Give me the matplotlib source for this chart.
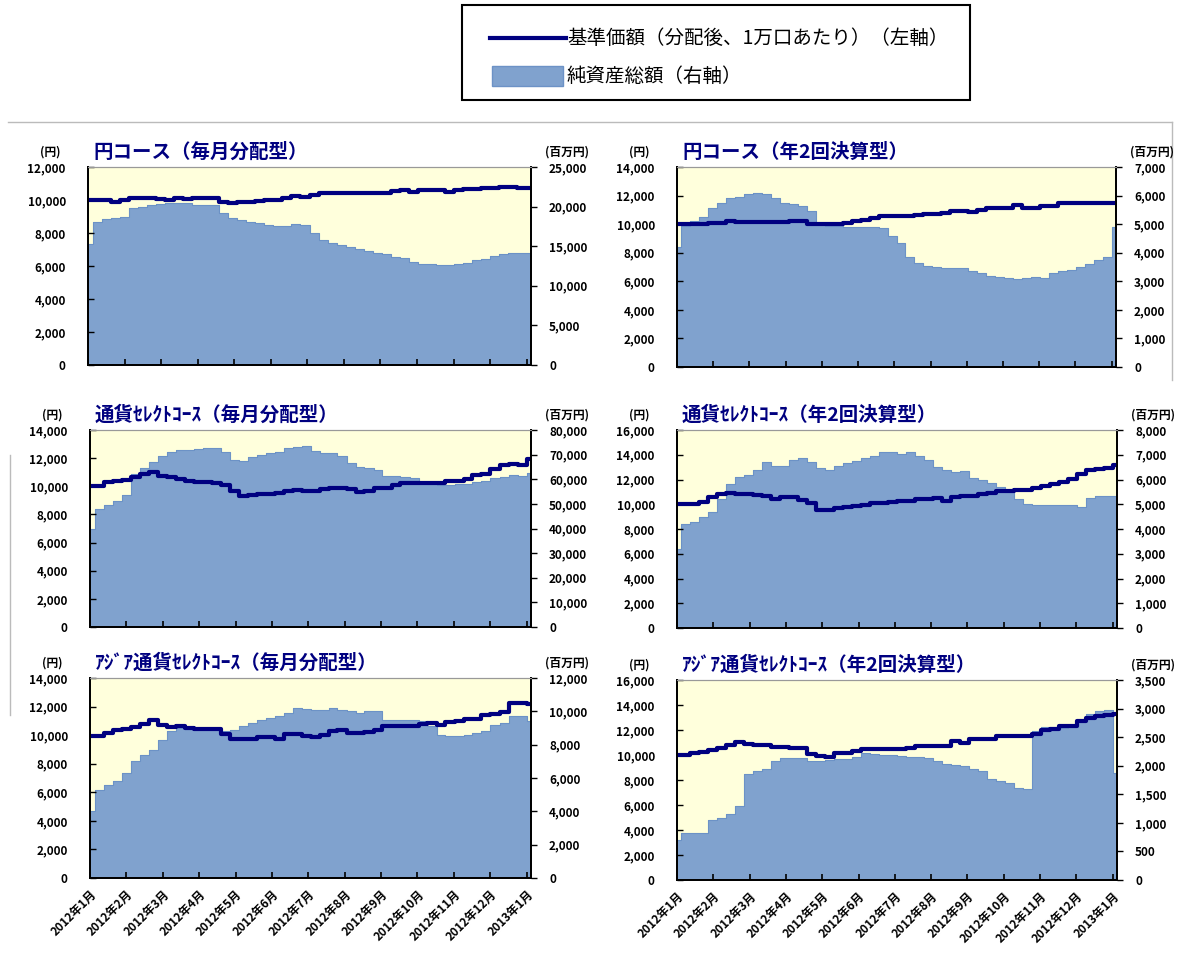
import numpy as np
import matplotlib
matplotlib.use('Agg')
import matplotlib.pyplot as plt
from matplotlib.lines import Line2D
from matplotlib.patches import Rectangle

plt.rcParams['font.family'] = ['Noto Sans CJK JP', 'DejaVu Sans']

# ===================== DATA =====================
MONTH_LABELS = ["2012年1月", "2012年2月", "2012年3月", "2012年4月", "2012年5月",
                "2012年6月", "2012年7月", "2012年8月", "2012年9月", "2012年10月",
                "2012年11月", "2012年12月", "2013年1月"]
X_END = 12.12  # months shown on the x axis

# 円コース（毎月分配型）
yen_m_nav = [10000, 10000, 10000, 9900, 10000, 10100, 10100, 10100, 10050, 10000,
             10100, 10050, 10100, 10100, 10100, 9900, 9800, 9850, 9850, 9950,
             10000, 10000, 10150, 10250, 10200, 10300, 10400, 10400, 10400, 10400,
             10400, 10400, 10400, 10450, 10550, 10600, 10500, 10600, 10600, 10600,
             10500, 10600, 10650, 10650, 10700, 10700, 10800, 10800, 10700, 10700]
yen_m_assets = [15300, 18000, 18400, 18500, 18700, 19800, 20000, 20200, 20300, 20400,
                20400, 20400, 20200, 20200, 20200, 19200, 18600, 18300, 18000, 17900,
                17700, 17600, 17600, 17800, 17700, 16700, 15800, 15400, 15100, 14900,
                14700, 14400, 14200, 14000, 13600, 13500, 13000, 12800, 12700, 12600,
                12600, 12700, 12900, 13200, 13400, 13800, 14000, 14100, 14100, 14100]

# 円コース（年2回決算型）
yen_s_nav = [10000, 10000, 10000, 10000, 10050, 10100, 10200, 10150, 10150, 10150,
             10150, 10150, 10150, 10250, 10200, 10000, 10000, 10000, 10000, 10100,
             10250, 10300, 10450, 10550, 10550, 10550, 10550, 10650, 10700, 10700,
             10750, 10900, 10950, 10850, 11000, 11150, 11150, 11150, 11350, 11150,
             11150, 11300, 11300, 11450, 11450, 11450, 11450, 11450, 11450, 11450]
yen_s_assets = [4200, 4950, 5100, 5250, 5550, 5750, 5900, 5950, 6050, 6100,
                6050, 5900, 5750, 5700, 5650, 5450, 5000, 4950, 4950, 4900,
                4900, 4900, 4900, 4850, 4600, 4350, 3850, 3650, 3550, 3500,
                3450, 3450, 3450, 3350, 3300, 3200, 3150, 3100, 3080, 3100,
                3150, 3100, 3300, 3350, 3400, 3500, 3600, 3750, 3850, 4900]

# 通貨セレクトコース（毎月分配型）
cur_m_nav = [10000, 10000, 10300, 10350, 10450, 10650, 10850, 11050, 10700, 10650,
             10550, 10400, 10300, 10300, 10250, 10100, 9650, 9300, 9350, 9450,
             9450, 9500, 9700, 9750, 9650, 9650, 9800, 9850, 9850, 9800,
             9600, 9700, 9900, 9850, 10100, 10250, 10250, 10200, 10200, 10250,
             10350, 10400, 10500, 10800, 10900, 11200, 11500, 11600, 11500, 11950]
cur_m_assets = [40000, 48000, 49500, 51000, 53500, 62000, 64500, 67000, 69500, 71000,
                72000, 71800, 72200, 72800, 72500, 71000, 68000, 67500, 69000, 70000,
                70500, 71000, 72500, 73000, 73300, 71500, 70800, 70500, 69500, 66500,
                65000, 64500, 63800, 61500, 61500, 60800, 60500, 58500, 58000, 57600,
                57600, 58000, 58000, 59000, 59300, 60500, 61000, 61800, 61500, 62500]

# 通貨セレクトコース（年2回決算型）
cur_s_nav = [10000, 10000, 10050, 10150, 10600, 10850, 10900, 10850, 10850, 10750,
             10700, 10400, 10550, 10550, 10350, 10100, 9500, 9550, 9700, 9800,
             9850, 9900, 10100, 10100, 10200, 10300, 10300, 10450, 10450, 10500,
             10250, 10600, 10650, 10650, 10850, 10900, 11100, 11100, 11150, 11150,
             11350, 11450, 11650, 11800, 12050, 12450, 12750, 12850, 12950, 13150]
cur_s_assets = [3200, 4200, 4300, 4500, 4700, 5200, 5800, 6100, 6200, 6400,
                6700, 6550, 6550, 6800, 6850, 6700, 6450, 6400, 6550, 6650,
                6750, 6850, 6950, 7100, 7100, 7050, 7100, 6950, 6800, 6500,
                6400, 6300, 6350, 6050, 6000, 5850, 5700, 5500, 5200, 5000,
                4950, 4950, 4950, 4950, 4950, 4900, 5250, 5350, 5350, 5350]

# アジア通貨セレクトコース（毎月分配型）
asia_m_nav = [9950, 9950, 10150, 10350, 10400, 10600, 10750, 11050, 10700, 10550,
              10650, 10500, 10450, 10450, 10450, 10100, 9750, 9750, 9750, 9850,
              9850, 9750, 10050, 10100, 9950, 9850, 10000, 10300, 10350, 10150,
              10150, 10250, 10350, 10650, 10650, 10650, 10650, 10750, 10850, 10700,
              10950, 11000, 11100, 11150, 11400, 11450, 11650, 12250, 12250, 12200]
asia_m_assets = [4000, 5300, 5600, 5800, 6300, 7000, 7400, 7700, 8300, 8800,
                 9000, 8950, 9000, 9000, 9000, 8850, 8900, 9150, 9300, 9500,
                 9600, 9700, 9900, 10200, 10150, 10100, 10100, 10200, 10100, 10050,
                 9900, 10050, 10000, 9500, 9500, 9500, 9500, 9450, 9100, 8600,
                 8500, 8550, 8600, 8700, 8850, 9200, 9300, 9700, 9750, 9400]

# アジア通貨セレクトコース（年2回決算型）
asia_s_nav = [10000, 10000, 10150, 10250, 10400, 10550, 10800, 11050, 10900, 10800,
              10800, 10650, 10650, 10550, 10550, 10050, 9900, 9850, 10150, 10150,
              10350, 10450, 10450, 10450, 10450, 10450, 10550, 10750, 10700, 10700,
              10700, 11150, 11000, 11300, 11300, 11300, 11500, 11550, 11550, 11500,
              11700, 12000, 12100, 12300, 12300, 12750, 12950, 13100, 13200, 13300]
asia_s_assets = [700, 830, 830, 830, 1050, 1080, 1150, 1300, 1850, 1900,
                 1950, 2080, 2130, 2130, 2130, 2080, 2090, 2100, 2110, 2120,
                 2150, 2220, 2200, 2190, 2180, 2170, 2160, 2160, 2130, 2090,
                 2030, 2010, 2000, 1940, 1900, 1770, 1740, 1700, 1610, 1600,
                 2600, 2670, 2670, 2660, 2680, 2800, 2900, 2960, 2980, 1870]

TITLES = ["円コース（毎月分配型）", "円コース（年2回決算型）",
          "通貨ｾﾚｸﾄｺｰｽ（毎月分配型）", "通貨ｾﾚｸﾄｺｰｽ（年2回決算型）",
          "ｱｼﾞｱ通貨ｾﾚｸﾄｺｰｽ（毎月分配型）", "ｱｼﾞｱ通貨ｾﾚｸﾄｺｰｽ（年2回決算型）"]
LEFT_MAX = [12000, 14000, 14000, 16000, 14000, 16000]
RIGHT_MAX = [25000, 7000, 80000, 8000, 12000, 3500]
RIGHT_STEP = [5000, 1000, 10000, 1000, 2000, 500]

LEGEND_LINE = "基準価額（分配後、1万口あたり）（左軸）"
LEGEND_FILL = "純資産総額（右軸）"

# ===================== STYLE =====================
W, H = 1181, 960
NAVY = '#000080'
FILL = '#80A2CE'
BG = '#FFFFDC'

# axes boxes in pixels: (left, top, right, bottom)
BOXES = [(88, 167, 531, 365), (677, 167, 1116, 367),
         (90, 430, 531, 627), (677, 430, 1117, 628),
         (90, 678, 531, 878), (677, 680, 1117, 880)]


def fx(px):
    return px / W


def fy(py):
    return 1 - py / H


def fmt(v):
    return f"{v:,}"


fig = plt.figure(figsize=(W / 100, H / 100), dpi=100)

series = [(yen_m_nav, yen_m_assets), (yen_s_nav, yen_s_assets),
          (cur_m_nav, cur_m_assets), (cur_s_nav, cur_s_assets),
          (asia_m_nav, asia_m_assets), (asia_s_nav, asia_s_assets)]

for i, (nav, assets) in enumerate(series):
    l, t, r, b = BOXES[i]
    ax = fig.add_axes([fx(l), fy(b), fx(r) - fx(l), fy(t) - fy(b)])
    ax2 = ax.twinx()
    x = np.linspace(0, X_END, len(nav))

    ax2.patch.set_visible(True)
    ax2.set_facecolor(BG)
    ax2.fill_between(x, assets, 0, step='mid', color=FILL, lw=0)
    ax2.plot(x, assets, drawstyle='steps-mid', color='#6C92C6', lw=0.8)
    ax.plot(x, nav, drawstyle='steps-mid', color=NAVY, lw=3, solid_capstyle='butt')
    ax.set_zorder(ax2.get_zorder() + 1)
    ax.patch.set_visible(False)

    ax.set_xlim(0, X_END)
    ax.set_ylim(0, LEFT_MAX[i])
    ax2.set_ylim(0, RIGHT_MAX[i])

    lt = list(range(0, LEFT_MAX[i] + 1, 2000))
    ax.set_yticks(lt)
    ax.set_yticklabels([fmt(v) for v in lt], fontsize=8.5, fontweight='bold')
    rt = list(range(0, RIGHT_MAX[i] + 1, RIGHT_STEP[i]))
    ax2.set_yticks(rt)
    ax2.set_yticklabels([fmt(v) for v in rt], fontsize=8.5, fontweight='bold')

    ax.set_xticks(range(len(MONTH_LABELS)))
    if i >= 4:
        ax.set_xticklabels(MONTH_LABELS, rotation=45, ha='right', va='top',
                           rotation_mode='anchor', fontsize=8.5, fontweight='bold')
    else:
        ax.set_xticklabels([])

    ax.tick_params(axis='x', direction='in', length=4, width=1.2, pad=7)
    ax.tick_params(axis='y', direction='in', length=4, width=1, pad=16)
    ax2.tick_params(axis='y', direction='out', length=4, width=1, pad=9)

    for a in (ax, ax2):
        a.spines['top'].set_color('#999999')
        a.spines['top'].set_linewidth(0.8)
        for s in ('left', 'right', 'bottom'):
            a.spines[s].set_color('black')
            a.spines[s].set_linewidth(1.3)

    # unit labels and panel title
    fig.text(fx(l - 38), fy(t - 15), "(円)", fontsize=8.5, fontweight='bold',
             ha='center', va='center')
    fig.text(fx(r + 36), fy(t - 15), "(百万円)", fontsize=8.5, fontweight='bold',
             ha='center', va='center')
    fig.text(fx(l + 5), fy(t - 15), TITLES[i], fontsize=14, fontweight='bold',
             color=NAVY, ha='left', va='center')

# ===================== LEGEND BOX =====================
fig.patches.append(Rectangle((fx(462), fy(100)), fx(970) - fx(462), fy(5) - fy(100),
                             transform=fig.transFigure, fill=False,
                             edgecolor='black', lw=1.5))
fig.lines.append(Line2D([fx(490), fx(566)], [fy(38), fy(38)],
                        transform=fig.transFigure, color=NAVY, lw=3))
fig.text(fx(567), fy(38), LEGEND_LINE, fontsize=14, ha='left', va='center')
fig.patches.append(Rectangle((fx(492), fy(86)), fx(563) - fx(492), fy(66) - fy(86),
                             transform=fig.transFigure, facecolor=FILL,
                             edgecolor='#6C92C6', lw=1))
fig.text(fx(567), fy(76), LEGEND_FILL, fontsize=14, ha='left', va='center')

# faint frame lines of the source screenshot
frame = '#BBBBBB'
fig.lines.append(Line2D([fx(8), fx(1172)], [fy(122), fy(122)],
                        transform=fig.transFigure, color=frame, lw=1))
fig.lines.append(Line2D([fx(1172), fx(1172)], [fy(122), fy(380)],
                        transform=fig.transFigure, color=frame, lw=1))
fig.lines.append(Line2D([fx(10), fx(10)], [fy(455), fy(715)],
                        transform=fig.transFigure, color=frame, lw=1))

fig.savefig("out.png", dpi=100)
